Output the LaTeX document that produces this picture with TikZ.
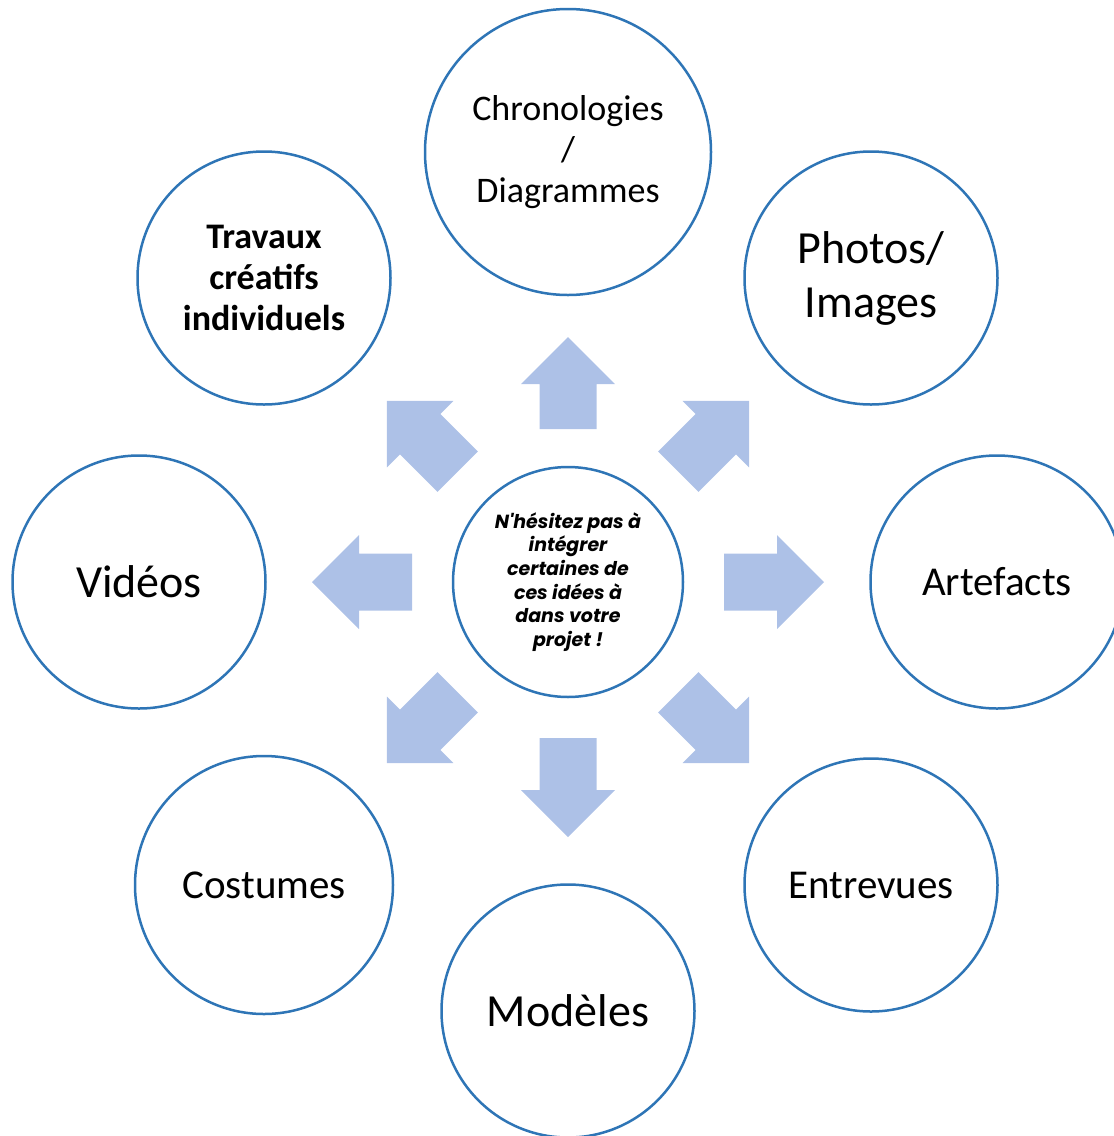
\documentclass[tikz,border=0pt]{standalone}
\usepackage{fontspec}
\setmainfont{Carlito}
\newfontfamily\gothic{Poppins}
\definecolor{ringBlue}{HTML}{2E75B6}
\definecolor{arrowBlue}{HTML}{ADC1E7}

\begin{document}
\begin{tikzpicture}[x=1pt, y=-1pt]

% styles
\tikzstyle{bubble}=[circle, draw=ringBlue, line width=2.5pt, fill=white, inner sep=0pt, align=center, text=black, minimum size=253pt]
\tikzstyle{bubbleBig}=[bubble, minimum size=286pt]
\tikzstyle{hubBubble}=[bubble, minimum size=230pt]
\tikzstyle{blockArrow}=[fill=arrowBlue]

\useasboundingbox (0,0) rectangle (1114,1136);

% fleches (angle / debut / pointe)
\foreach \a/\s/\t in {0/156/256,45/156/256,90/153/245,135/156/256,180/156/256,225/156/256,270/156/255,315/156/256}
  \fill[blockArrow, shift={(568,582)}, rotate=\a]
    (\s,-28.5) -- (\t-47,-28.5) -- (\t-47,-47) -- (\t,0) -- (\t-47,47) -- (\t-47,28.5) -- (\s,28.5) -- cycle;

% centre
\node[hubBubble, font=\gothic\bfseries\itshape\fontsize{19}{23.6}\selectfont] (hub) at (568,582)
  {N'hésitez pas à\\intégrer\\certaines de\\ces idées à\\dans votre\\projet !};

% bulles
\node[bubbleBig, font=\fontsize{36}{41}\selectfont] (chrono) at (568,152)
  {Chronologies\\/\\Diagrammes};
\node[bubble, font=\fontsize{46}{54}\selectfont] (photos) at (871,278)
  {Photos/\\Images};
\node[bubble, font=\fontsize{41}{49}\selectfont] (artefacts) at (997,582)
  {Artefacts};
\node[bubble, font=\fontsize{41}{49}\selectfont] (entrevues) at (871,885)
  {Entrevues};
\node[bubble, font=\fontsize{46}{55}\selectfont] (modeles) at (568,1011)
  {Modèles};
\node[bubble, minimum size=258pt, font=\fontsize{41}{49}\selectfont] (costumes) at (264,885)
  {Costumes};
\node[bubble, font=\fontsize{46}{55}\selectfont] (videos) at (139,582)
  {Vidéos};
\node[bubble, font=\bfseries\fontsize{36}{41}\selectfont] (travaux) at (264,278)
  {Travaux\\créatifs\\individuels};

\end{tikzpicture}
\end{document}
